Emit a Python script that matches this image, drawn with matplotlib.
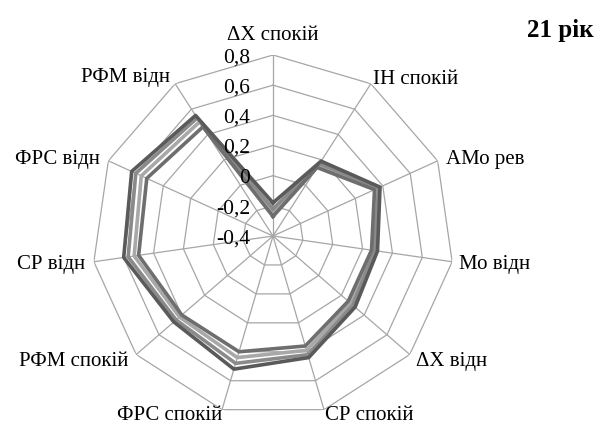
import numpy as np
import matplotlib
matplotlib.use('Agg')
import matplotlib.pyplot as plt

plt.rcParams['font.family'] = ['Liberation Serif', 'DejaVu Serif']

labels = ['ΔX спокій', 'ІН спокій', 'АМо рев', 'Мо відн', 'ΔX відн', 'СР спокій',
          'ФРС спокій', 'РФМ спокій', 'СР відн', 'ФРС відн', 'РФМ відн']
ticks = [-0.4, -0.2, 0, 0.2, 0.4, 0.6, 0.8]
tick_labels = ['-0,4', '-0,2', '0', '0,2', '0,4', '0,6', '0,8']

s1 = [-0.18, 0.19, 0.38, 0.30, 0.32, 0.44, 0.52, 0.47, 0.60, 0.63, 0.55]
s2 = [-0.22, 0.17, 0.37, 0.28, 0.30, 0.42, 0.48, 0.45, 0.57, 0.60, 0.53]
s3 = [-0.25, 0.15, 0.35, 0.27, 0.28, 0.39, 0.44, 0.42, 0.53, 0.56, 0.50]
s4 = [-0.27, 0.14, 0.34, 0.26, 0.26, 0.36, 0.40, 0.40, 0.50, 0.52, 0.46]
series = [s3, s2, s4, s1]
colors = ['#a8a8a8', '#8a8a8a', '#6e6e6e', '#5a5a5a']

n = len(labels)
theta = np.arange(n) * 2 * np.pi / n
theta_c = np.append(theta, theta[0])

fig = plt.figure(figsize=(5.98, 4.30), dpi=100)
ax = fig.add_axes([92 / 598, 13 / 430, 362 / 598, 362 / 430], projection='polar')
ax.set_theta_zero_location('N')
ax.set_theta_direction(-1)
ax.set_ylim(-0.4, 0.8)
ax.grid(False)
ax.spines['polar'].set_visible(False)
ax.set_xticks([])
ax.set_yticks([])

# polygon grid
for v in ticks[1:]:
    ax.plot(theta_c, [v] * (n + 1), color='#a6a6a6', lw=0.9, zorder=1)
for t in theta:
    ax.plot([t, t], [-0.4, 0.8], color='#a6a6a6', lw=0.9, zorder=1)

for vals, c in zip(series, colors):
    ax.plot(theta_c, vals + vals[:1], color=c, lw=2.6, zorder=3)

for v, tl in zip(ticks, tick_labels):
    ax.annotate(tl, xy=(0, v), xytext=(-23, -3), textcoords='offset pixels',
                ha='right', va='center', fontsize=15.5, zorder=5)

offsets = [(0, 20), (2, 4), (8, 1), (7, -3), (6, -7), (1, -6),
           (0, -6), (-8, -7), (-9, -3), (-8, 1), (-5, 6)]
for i, (lab, off) in enumerate(zip(labels, offsets)):
    if i == 0:
        ha = 'center'
    elif i <= 5:
        ha = 'left'
    else:
        ha = 'right'
    ax.annotate(lab, xy=(theta[i], 0.8), xytext=off, textcoords='offset pixels',
                ha=ha, va='center', fontsize=15, annotation_clip=False)

fig.text(594 / 598, 1 - 30 / 430, '21 рік', ha='right', va='center',
         fontsize=18, fontweight='bold')

fig.savefig('out.png', dpi=100)
